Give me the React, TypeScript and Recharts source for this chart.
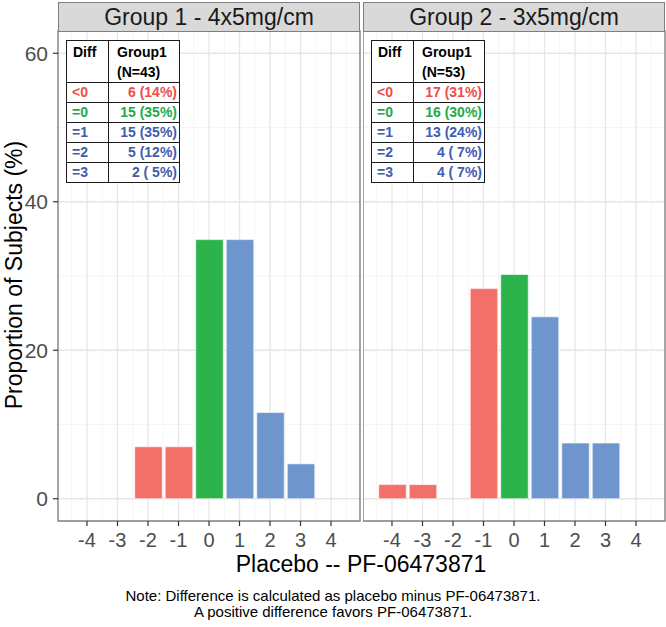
import React from 'react';
import { BarChart, Bar, XAxis, YAxis, CartesianGrid, Cell, ReferenceArea } from 'recharts';

// ---- data ----
const group1Diff = [-2, -1, 0, 1, 2, 3];
const group1Pct = [7.0, 7.0, 34.9, 34.9, 11.6, 4.7];
const group2Diff = [-4, -3, -1, 0, 1, 2, 3];
const group2Pct = [1.9, 1.9, 28.3, 30.2, 24.5, 7.5, 7.5];

const xTicks = [-4, -3, -2, -1, 0, 1, 2, 3, 4];
const yTicks = [0, 20, 40, 60];
const xMinor = [-4.5, -3.5, -2.5, -1.5, -0.5, 0.5, 1.5, 2.5, 3.5, 4.5];
const yMinor = [10, 30, 50];

const panelTitles = ['Group 1 - 4x5mg/cm', 'Group 2 - 3x5mg/cm'];
const tableDiffLabels = ['<0', '=0', '=1', '=2', '=3'];
const table1Header = ['Group1', '(N=43)'];
const table2Header = ['Group1', '(N=53)'];
const table1Values = ['6 (14%)', '15 (35%)', '15 (35%)', '5 (12%)', '2 ( 5%)'];
const table2Values = ['17 (31%)', '16 (30%)', '13 (24%)', '4 ( 7%)', '4 ( 7%)'];

const xTitle = 'Placebo -- PF-06473871';
const yTitle = 'Proportion of Subjects (%)';
const noteLines = [
  'Note: Difference is calculated as placebo minus PF-06473871.',
  'A positive difference favors PF-06473871.',
];

const RED = '#F27069';
const GREEN = '#2DB34B';
const BLUE = '#6F95CD';
const T_RED = '#EE4E48';
const T_GREEN = '#22A94A';
const T_BLUE = '#3F5DAE';
const rowTextColors = [T_RED, T_GREEN, T_BLUE, T_BLUE, T_BLUE];

const colorFor = (d: number) => (d < 0 ? RED : d === 0 ? GREEN : BLUE);

const g1 = group1Diff.map((d, i) => ({ diff: d, pct: group1Pct[i] }));
const g2 = group2Diff.map((d, i) => ({ diff: d, pct: group2Pct[i] }));

const FONT = '"Liberation Sans", Arial, sans-serif';
const NARROW = '"Liberation Sans Narrow", "Liberation Sans", Arial, sans-serif';
const X_DOMAIN: [number, number] = [-4.95, 4.95];
const Y_DOMAIN: [number, number] = [-3, 63];

function Panel({ data, width, showY }: { data: any[]; width: number; showY: boolean }) {
  return (
    <BarChart
      width={width}
      height={560}
      data={data}
      margin={{ top: 31, right: 1, left: 0, bottom: 0 }}
      barSize={27.5}
    >
      <CartesianGrid
        stroke="#F3F3F3"
        strokeWidth={0.8}
        horizontalValues={yMinor}
        verticalValues={xMinor}
      />
      <CartesianGrid
        stroke="#E6E6E6"
        strokeWidth={1.3}
        horizontalValues={yTicks}
        verticalValues={xTicks}
      />
      <XAxis
        type="number"
        dataKey="diff"
        domain={X_DOMAIN}
        ticks={xTicks}
        interval={0}
        allowDataOverflow
        height={39}
        axisLine={false}
        tickLine={{ stroke: '#333333', strokeWidth: 1.2 }}
        tickSize={5}
        tickMargin={7}
        tick={{ fill: '#4D4D4D', fontSize: 20, fontFamily: NARROW }}
      />
      <YAxis
        type="number"
        domain={Y_DOMAIN}
        ticks={yTicks}
        interval={0}
        allowDataOverflow
        hide={!showY}
        width={showY ? 58 : 0}
        axisLine={false}
        tickLine={{ stroke: '#333333', strokeWidth: 1.2 }}
        tickSize={5}
        tickMargin={5}
        tick={{ fill: '#4D4D4D', fontSize: 21, fontFamily: NARROW }}
      />
      <Bar dataKey="pct" isAnimationActive={false} stroke="#FFFFFF" strokeWidth={0.6}>
        {data.map((e, i) => (
          <Cell key={i} fill={colorFor(e.diff)} />
        ))}
      </Bar>
      <ReferenceArea
        x1={X_DOMAIN[0]}
        x2={X_DOMAIN[1]}
        y1={Y_DOMAIN[0]}
        y2={Y_DOMAIN[1]}
        fill="none"
        fillOpacity={0}
        stroke="#7F7F7F"
        strokeWidth={1.4}
        ifOverflow="visible"
      />
    </BarChart>
  );
}

function Strip({ left, width, title }: { left: number; width: number; title: string }) {
  return (
    <div
      style={{
        position: 'absolute',
        left,
        top: 2,
        width: width - 2,
        height: 28,
        background: '#D9D9D9',
        border: '1px solid #7F7F7F',
        display: 'flex',
        alignItems: 'center',
        justifyContent: 'center',
        fontSize: 23,
        color: '#1A1A1A',
        fontFamily: NARROW,
      }}
    >
      {title}
    </div>
  );
}

function InsetTable({ left, header, values }: { left: number; header: string[]; values: string[] }) {
  const cell: React.CSSProperties = {
    border: '1.5px solid #1A1A1A',
    padding: 0,
    height: 19,
    lineHeight: '19px',
    whiteSpace: 'pre',
  };
  return (
    <table
      style={{
        position: 'absolute',
        left,
        top: 40,
        width: 113,
        borderCollapse: 'collapse',
        background: '#FFFFFF',
        fontFamily: FONT,
        fontWeight: 700,
        fontSize: 14,
        tableLayout: 'fixed',
      }}
    >
      <colgroup>
        <col style={{ width: 42 }} />
        <col style={{ width: 71 }} />
      </colgroup>
      <tbody>
        <tr>
          <td style={{ ...cell, height: 40, verticalAlign: 'top', paddingLeft: 6, paddingTop: 1, lineHeight: '20px', color: '#000' }}>
            Diff
          </td>
          <td style={{ ...cell, height: 40, verticalAlign: 'top', paddingLeft: 8, paddingTop: 1, lineHeight: '20px', color: '#000' }}>
            {header[0]}
            <br />
            {header[1]}
          </td>
        </tr>
        {tableDiffLabels.map((lab, i) => (
          <tr key={lab}>
            <td style={{ ...cell, paddingLeft: 5, color: rowTextColors[i] }}>{lab}</td>
            <td style={{ ...cell, textAlign: 'right', paddingRight: 2, color: rowTextColors[i] }}>{values[i]}</td>
          </tr>
        ))}
      </tbody>
    </table>
  );
}

export default function App() {
  return (
    <div
      style={{
        position: 'absolute',
        left: 0,
        top: 0,
        width: 666,
        height: 627,
        background: '#FFFFFF',
        fontFamily: FONT,
        overflow: 'hidden',
      }}
    >
      <div style={{ position: 'absolute', left: 0, top: 0 }}>
        <Panel data={g1} width={361} showY={true} />
      </div>
      <div style={{ position: 'absolute', left: 363, top: 0 }}>
        <Panel data={g2} width={303} showY={false} />
      </div>
      <Strip left={58} width={302} title={panelTitles[0]} />
      <Strip left={363} width={302} title={panelTitles[1]} />
      <InsetTable left={66} header={table1Header} values={table1Values} />
      <InsetTable left={371} header={table2Header} values={table2Values} />
      <div
        style={{
          position: 'absolute',
          left: 14 - 200,
          top: 275 - 13,
          width: 400,
          height: 26,
          lineHeight: '26px',
          textAlign: 'center',
          transform: 'rotate(-90deg)',
          fontSize: 23,
          fontFamily: NARROW,
          color: '#000',
        }}
      >
        {yTitle}
      </div>
      <div
        style={{
          position: 'absolute',
          left: 161,
          top: 551,
          width: 400,
          height: 26,
          lineHeight: '26px',
          textAlign: 'center',
          fontSize: 23,
          fontFamily: NARROW,
          color: '#000',
        }}
      >
        {xTitle}
      </div>
      <div
        style={{
          position: 'absolute',
          left: 0,
          top: 588,
          width: 666,
          textAlign: 'center',
          fontSize: 15,
          lineHeight: '16px',
          fontFamily: NARROW,
          color: '#000',
        }}
      >
        <div>{noteLines[0]}</div>
        <div>{noteLines[1]}</div>
      </div>
    </div>
  );
}
